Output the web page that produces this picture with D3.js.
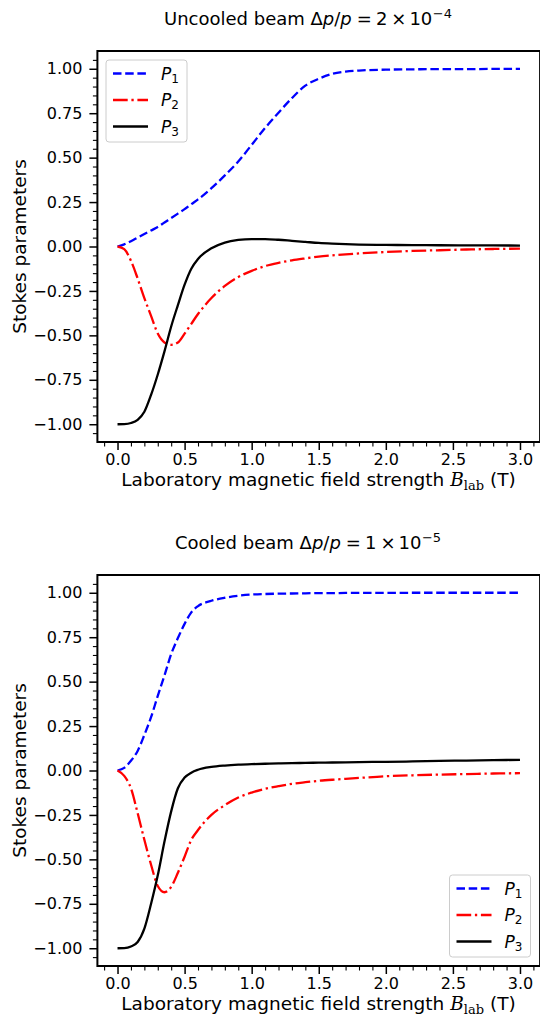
<!DOCTYPE html>
<html><head><meta charset="utf-8">
<script src="https://cdn.jsdelivr.net/npm/d3@7"></script>
<style>body{margin:0;background:#fff}svg{display:block}text{font-family:"DejaVu Sans",sans-serif}</style>
</head><body>
<script>
const B = [0,0.05,0.1,0.15,0.2,0.25,0.3,0.35,0.4,0.45,0.5,0.55,0.6,0.7,0.8,0.9,1.0,1.1,1.2,1.3,1.4,1.5,1.6,1.7,1.8,2.0,2.2,2.4,2.6,2.8,3.0];

const uncooledP1 = [0,0.012,0.03,0.05,0.07,0.09,0.11,0.135,0.16,0.185,0.21,0.238,0.265,0.328,0.4,0.478,0.572,0.667,0.753,0.835,0.905,0.944,0.971,0.984,0.99,0.995,0.997,0.998,0.998,0.999,0.999];
const uncooledP2 = [0,-0.015,-0.08,-0.18,-0.29,-0.39,-0.49,-0.54,-0.553,-0.54,-0.49,-0.435,-0.38,-0.29,-0.222,-0.172,-0.137,-0.11,-0.092,-0.078,-0.067,-0.057,-0.05,-0.044,-0.039,-0.031,-0.025,-0.021,-0.017,-0.014,-0.012];
const uncooledP3 = [-1,-0.999,-0.993,-0.975,-0.93,-0.835,-0.72,-0.59,-0.45,-0.33,-0.215,-0.125,-0.07,-0.01,0.022,0.037,0.042,0.042,0.038,0.032,0.026,0.02,0.016,0.013,0.011,0.009,0.008,0.007,0.006,0.006,0.005];

const cooledP1 = [0,0.015,0.055,0.11,0.2,0.3,0.42,0.535,0.655,0.745,0.825,0.89,0.925,0.955,0.972,0.983,0.99,0.993,0.995,0.996,0.997,0.998,0.998,0.999,0.999,0.999,1.0,1.0,1.0,1.0,1.0];
const cooledP2 = [0,-0.03,-0.1,-0.24,-0.39,-0.53,-0.65,-0.685,-0.655,-0.575,-0.485,-0.39,-0.335,-0.25,-0.195,-0.152,-0.124,-0.103,-0.088,-0.075,-0.066,-0.058,-0.052,-0.047,-0.042,-0.032,-0.027,-0.023,-0.02,-0.017,-0.015];
const cooledP3 = [-1,-0.999,-0.99,-0.965,-0.89,-0.75,-0.59,-0.4,-0.23,-0.1,-0.04,-0.012,0.004,0.02,0.028,0.033,0.036,0.038,0.04,0.041,0.043,0.044,0.045,0.046,0.047,0.049,0.051,0.054,0.056,0.058,0.06];

const xTicks = [0,0.5,1.0,1.5,2.0,2.5,3.0];
const yTicks = [-1,-0.75,-0.5,-0.25,0,0.25,0.5,0.75,1];
const seriesNames = ["1","2","3"];

const W = 540, H = 1016;
const svg = d3.select("body").append("svg").attr("width", W).attr("height", H);

const LW = 2.3;
const styles = [
  {color:"#0000ff", dash:"8.5,3.7"},
  {color:"#ff0000", dash:"14.7,3.7,2.3,3.7"},
  {color:"#000000", dash:null}
];

function panel(cfg) {
  const x = d3.scaleLinear().domain([-0.15, 3.15]).range([97.4, 540.1]);
  const y = d3.scaleLinear().domain([-1.1, 1.1]).range([cfg.bottom, cfg.top]);
  const g = svg.append("g");

  // title
  const t = g.append("text").attr("x", 308).attr("y", cfg.titleY)
    .attr("text-anchor","middle").attr("font-size", 18);
  t.append("tspan").text(cfg.titleA + " \u0394");
  t.append("tspan").attr("font-style","italic").text("p");
  t.append("tspan").text("/");
  t.append("tspan").attr("font-style","italic").text("p");
  t.append("tspan").attr("dx", 5).text("=");
  t.append("tspan").attr("dx", 4).text(cfg.titleB);
  t.append("tspan").attr("dx", 4).text("\u00d7");
  t.append("tspan").attr("dx", 3).text("10");
  t.append("tspan").attr("font-size", 13).attr("dy", -7.5).attr("dx", 0.5).text(cfg.titleExp);

  // clip
  const cid = "clip" + cfg.id;
  svg.append("clipPath").attr("id", cid).append("rect")
    .attr("x", 97.4).attr("y", cfg.top).attr("width", 540.1-97.4).attr("height", cfg.bottom-cfg.top);

  const line = d3.line().x((d,i)=>x(B[i])).y(d=>y(d)).curve(d3.curveMonotoneX);
  const lines = g.append("g").attr("clip-path", `url(#${cid})`);
  cfg.data.forEach((arr, k) => {
    lines.append("path").datum(arr).attr("d", line)
      .attr("fill","none").attr("stroke", styles[k].color).attr("stroke-width", LW)
      .attr("stroke-dasharray", styles[k].dash);
  });

  // axes
  const xMinor = d3.range(-1, 32).map(i => i/10).filter(v => !xTicks.some(t => Math.abs(t-v) < 1e-9));
  const yMinor = d3.range(-21, 22).map(i => i*0.05).filter(v => !yTicks.some(t => Math.abs(t-v) < 1e-9));

  const xa = g.append("g").attr("transform", `translate(0,${cfg.bottom})`)
    .call(d3.axisBottom(x).tickValues(xTicks).tickFormat(d3.format(".1f")).tickSize(8).tickPadding(4));
  xa.select(".domain").remove();
  xa.selectAll(".tick line").attr("stroke-width", 1.5);
  xa.selectAll("text").attr("font-size", 16).attr("font-family", "DejaVu Sans").attr("fill","#000");
  const xm = g.append("g").attr("transform", `translate(0,${cfg.bottom})`)
    .call(d3.axisBottom(x).tickValues(xMinor).tickFormat("").tickSize(4.5));
  xm.select(".domain").remove();
  xm.selectAll(".tick line").attr("stroke-width", 1.1);

  const ya = g.append("g").attr("transform", `translate(97.4,0)`)
    .call(d3.axisLeft(y).tickValues(yTicks).tickFormat(d3.format(".2f")).tickSize(8).tickPadding(7));
  ya.select(".domain").remove();
  ya.selectAll(".tick line").attr("stroke-width", 1.5);
  ya.selectAll("text").attr("font-size", 16).attr("font-family", "DejaVu Sans").attr("fill","#000")
    .text(d => d3.format(".2f")(d).replace("-", "\u2212"));
  const ym = g.append("g").attr("transform", `translate(97.4,0)`)
    .call(d3.axisLeft(y).tickValues(yMinor).tickFormat("").tickSize(4.5));
  ym.select(".domain").remove();
  ym.selectAll(".tick line").attr("stroke-width", 1.1);

  // frame
  g.append("rect").attr("x", 97.4).attr("y", cfg.top).attr("width", 540.1-97.4).attr("height", cfg.bottom-cfg.top)
    .attr("fill","none").attr("stroke","#000").attr("stroke-width", 2);

  // x label
  const xl = g.append("text").attr("x", 318.5).attr("y", cfg.bottom + 44)
    .attr("text-anchor","middle").attr("font-size", 18.5);
  xl.append("tspan").text("Laboratory magnetic field strength ");
  xl.append("tspan").attr("font-family","DejaVu Serif").attr("font-style","italic").text("B");
  xl.append("tspan").attr("font-family","DejaVu Serif").attr("font-size", 13).attr("dy", 3.5).text("lab");
  xl.append("tspan").attr("dy", -3.5).text(" (T)");

  // y label
  g.append("text").attr("transform", `translate(26,${(cfg.top+cfg.bottom)/2}) rotate(-90)`)
    .attr("text-anchor","middle").attr("font-size", 18.5).text("Stokes parameters");

  // legend
  const L = cfg.legend;
  const lg = g.append("g").attr("transform", `translate(${L.x},${L.y})`);
  lg.append("rect").attr("x",0).attr("y",0).attr("width",81).attr("height",82).attr("rx",3)
    .attr("fill","#fff").attr("fill-opacity",0.8).attr("stroke","#cccccc").attr("stroke-width",1);
  seriesNames.forEach((n, k) => {
    const yy = 13.5 + k*26.5;
    lg.append("line").attr("x1",7).attr("x2",42).attr("y1",yy).attr("y2",yy)
      .attr("stroke", styles[k].color).attr("stroke-width",LW).attr("stroke-dasharray", styles[k].dash);
    const tx = lg.append("text").attr("x",55).attr("y",yy+6).attr("font-size",17);
    tx.append("tspan").attr("font-style","italic").text("P");
    tx.append("tspan").attr("font-size",12).attr("dy",3).text(n);
  });
}

panel({id:1, top:51, bottom:442, titleY:25, titleA:"Uncooled beam", titleB:"2", titleExp:"\u22124",
  data:[uncooledP1, uncooledP2, uncooledP3], legend:{x:106, y:60}});
panel({id:2, top:575, bottom:966, titleY:549, titleA:"Cooled beam", titleB:"1", titleExp:"\u22125",
  data:[cooledP1, cooledP2, cooledP3], legend:{x:449.5, y:875}});
</script>
</body></html>
